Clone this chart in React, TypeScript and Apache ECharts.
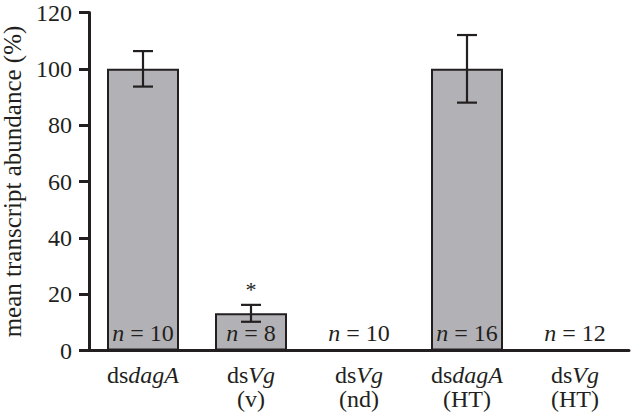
import React, { useEffect, useRef } from "react";
import * as echarts from "echarts";

const genes = ["dagA", "Vg", "Vg", "dagA", "Vg"];
const conditions = ["", "v", "nd", "HT", "HT"];
const means = [100, 13.2, 0, 100, 0];
const errors = [6.3, 3, 0, 12, 0];
const sampleSizes = [10, 8, 10, 16, 12];
const significance = ["", "*", "", "", ""];
const yTicks = [0, 20, 40, 60, 80, 100, 120];

const FONT = "'Liberation Serif', 'Times New Roman', Times, serif";
const DARK = "#231f20";
const FILL = "#b2b2b6";

export default function App() {
  const ref = useRef<HTMLDivElement>(null);
  useEffect(() => {
    if (!ref.current) return;
    const chart = echarts.init(ref.current, null, { renderer: "svg" });
    const categories = genes.map((g, i) => `ds${g}${conditions[i] ? " (" + conditions[i] + ")" : ""}`);
    const labelFor = (i: number) =>
      `{r|ds}{i|${genes[i]}}` + (conditions[i] ? `\n{r|(${conditions[i]})}` : "");
    chart.setOption({
      animation: false,
      backgroundColor: "#ffffff",
      grid: { left: 89, right: 2, top: 12.5, bottom: 66.5, containLabel: false, outerBoundsMode: "none" },
      xAxis: {
        type: "category",
        data: categories,
        axisLine: { lineStyle: { color: DARK, width: 3 } },
        axisTick: { alignWithLabel: true, length: 9, lineStyle: { color: DARK, width: 3 } },
        axisLabel: {
          margin: 12,
          formatter: (_v: string, i: number) => labelFor(i),
          rich: {
            r: { fontFamily: FONT, fontSize: 24, color: DARK, lineHeight: 24 },
            i: { fontFamily: FONT, fontSize: 24, fontStyle: "italic", color: DARK, lineHeight: 24 },
          },
        },
      },
      yAxis: {
        type: "value",
        min: yTicks[0],
        max: yTicks[yTicks.length - 1],
        interval: 20,
        name: "mean transcript abundance (%)",
        nameLocation: "middle",
        nameGap: 62,
        nameTextStyle: { fontFamily: FONT, fontSize: 25, color: DARK },
        axisLine: { show: true, lineStyle: { color: DARK, width: 3 } },
        axisTick: { show: true, length: 10, lineStyle: { color: DARK, width: 3 } },
        axisLabel: { fontFamily: FONT, fontSize: 24, color: DARK, margin: 17 },
        splitLine: { show: false },
      },
      series: [
        {
          type: "bar",
          data: means,
          barWidth: 72,
          itemStyle: { color: FILL, borderColor: DARK, borderWidth: 2 },
          z: 2,
        },
        {
          type: "custom",
          z: 5,
          data: means.map((m, i) => [i, m, errors[i], sampleSizes[i]]),
          renderItem: (params: any, api: any) => {
            const x = api.value(0);
            const m = api.value(1);
            const e = api.value(2);
            const n = api.value(3);
            const idx = params.dataIndex;
            const base = api.coord([x, 0]);
            const top = api.coord([x, m + e]);
            const bot = api.coord([x, m - e]);
            const children: any[] = [];
            const ls = { stroke: DARK, lineWidth: 2.2 };
            if (e > 0) {
              children.push({ type: "line", shape: { x1: top[0], y1: top[1], x2: bot[0], y2: bot[1] }, style: ls });
              children.push({ type: "line", shape: { x1: top[0] - 10, y1: top[1], x2: top[0] + 10, y2: top[1] }, style: ls });
              children.push({ type: "line", shape: { x1: bot[0] - 10, y1: bot[1], x2: bot[0] + 10, y2: bot[1] }, style: ls });
            }
            children.push({
              type: "text",
              x: base[0],
              y: base[1] - 6,
              style: {
                text: `{i|n} = ${n}`,
                align: "center",
                verticalAlign: "bottom",
                rich: {
                  i: { fontFamily: FONT, fontSize: 24, fontStyle: "italic", fill: DARK },
                },
                fontFamily: FONT,
                fontSize: 24,
                fill: DARK,
              },
            });
            if (significance[idx]) {
              children.push({
                type: "text",
                x: top[0],
                y: top[1] - 15,
                style: {
                  text: significance[idx],
                  align: "center",
                  verticalAlign: "middle",
                  fontFamily: FONT,
                  fontSize: 22,
                  fill: DARK,
                },
              });
            }
            return { type: "group", children };
          },
        },
      ],
    });
    return () => chart.dispose();
  }, []);
  return <div ref={ref} style={{ width: 631, height: 417, position: "absolute", left: 0, top: 0 }} />;
}
